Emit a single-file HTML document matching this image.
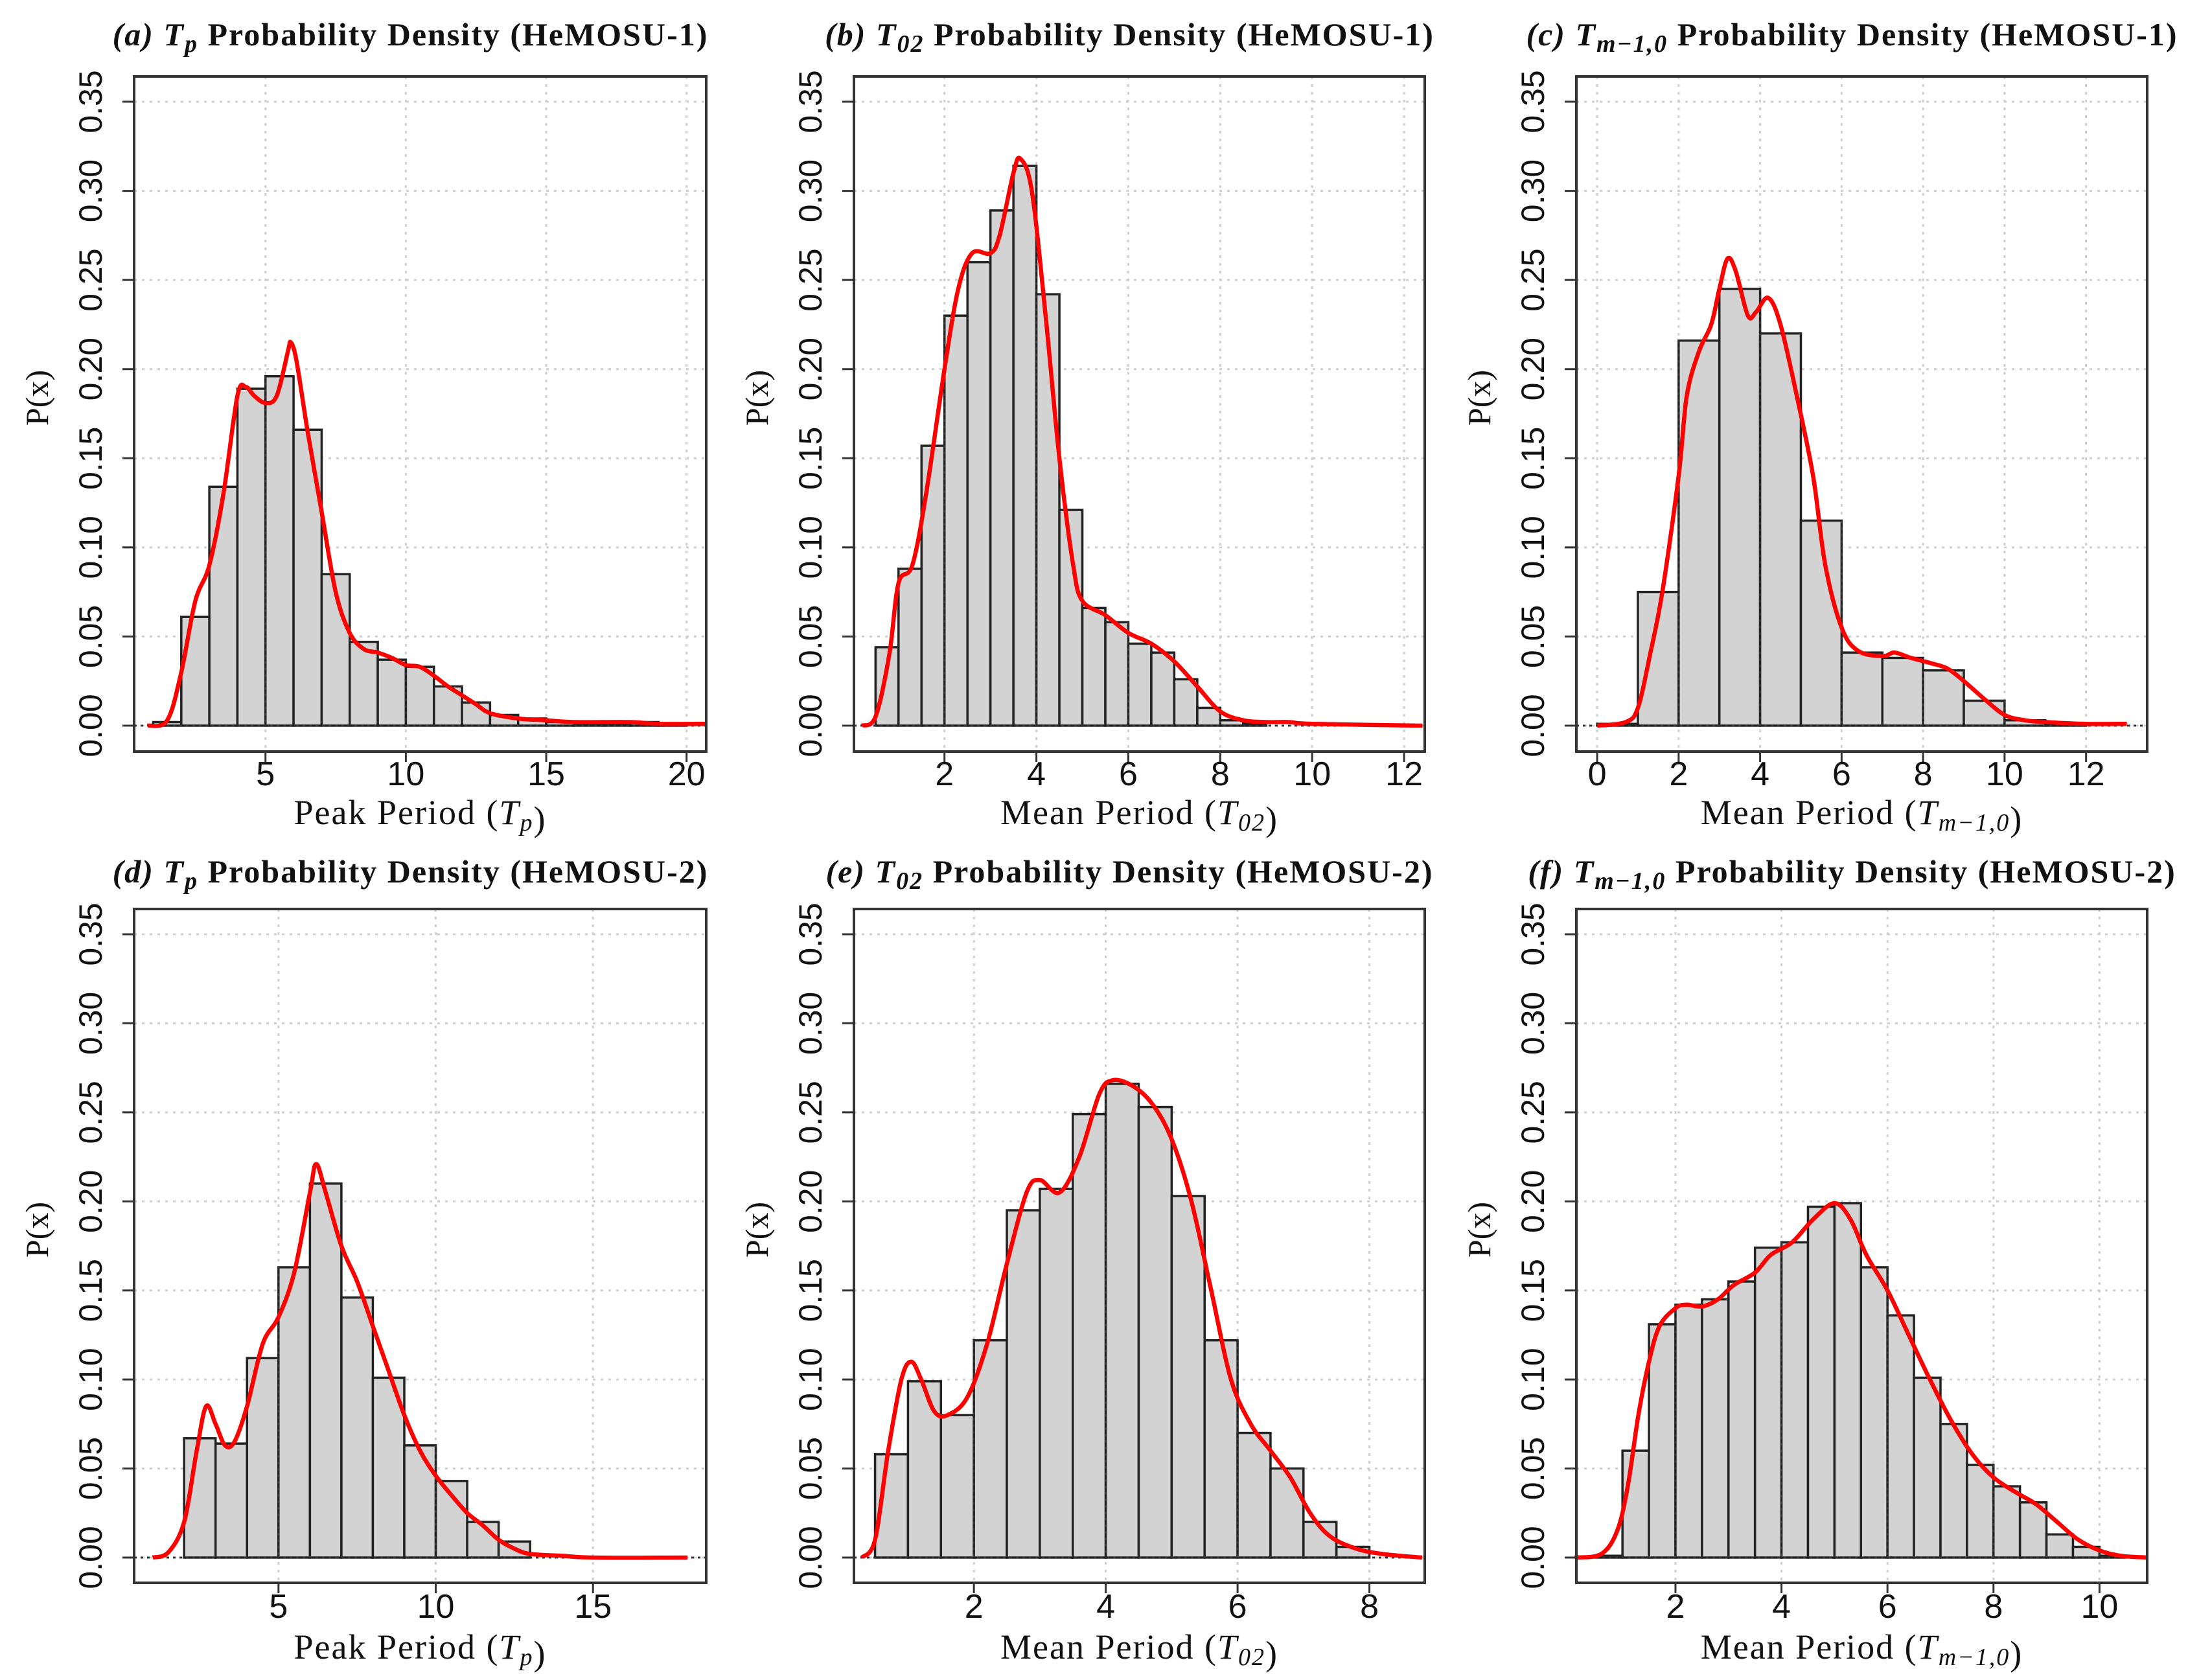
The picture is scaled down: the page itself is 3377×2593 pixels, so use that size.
<!DOCTYPE html>
<html><head><meta charset="utf-8"><style>
html,body{margin:0;padding:0;background:#fff;}
svg{display:block;}
</style></head><body>
<svg id="fig" width="3377" height="2593" viewBox="0 0 3377 2593" xmlns="http://www.w3.org/2000/svg"></svg>
<script>
// ---- data (panel a) ----
const aBinStart = 1, aBinWidth = 1;
const aBars = [0.002,0.061,0.134,0.189,0.196,0.166,0.085,0.047,0.037,0.033,0.022,0.013,0.006,0.004,0.002,0.001,0.001,0.002,0.001];
const aCurveX = [0.8,1.5,2,2.5,3,3.5,4,4.3,4.6,5,5.4,5.8,5.9,6.1,6.5,7,7.5,8,8.5,9,9.5,10,10.5,11,11.5,12,12.5,13,14,15,16,18,19,20.7];
const aCurveY = [0,0.003,0.03,0.07,0.09,0.13,0.185,0.19,0.185,0.181,0.185,0.21,0.215,0.205,0.165,0.12,0.075,0.052,0.043,0.041,0.038,0.034,0.033,0.028,0.022,0.017,0.012,0.007,0.004,0.003,0.002,0.002,0.001,0.001];
const aTicks = [5,10,15,20];
// ---- panel b ----
const bBinStart = 0.5, bBinWidth = 0.5;
const bBars = [0.044,0.088,0.157,0.23,0.26,0.289,0.314,0.242,0.121,0.066,0.058,0.046,0.041,0.026,0.01,0.003,0.001];
const bCurveX = [0.2,0.5,0.8,1,1.3,1.6,2,2.3,2.6,3,3.2,3.5,3.65,3.9,4.2,4.5,4.8,5,5.5,6,6.5,7,7.5,8,8.5,9,9.5,10,12.4];
const bCurveY = [0,0.005,0.04,0.08,0.09,0.13,0.2,0.245,0.265,0.265,0.275,0.31,0.318,0.3,0.23,0.15,0.09,0.07,0.062,0.052,0.046,0.036,0.022,0.008,0.003,0.002,0.002,0.001,0];
const bTicks = [2,4,6,8,10,12];
// ---- panel c ----
const cBinStart = 0, cBinWidth = 1;
const cBars = [0.001,0.075,0.216,0.245,0.22,0.115,0.041,0.038,0.031,0.014,0.003,0.001];
const cCurveX = [0,0.7,1,1.3,1.6,2,2.2,2.5,2.8,3,3.2,3.4,3.7,3.9,4.2,4.5,4.9,5.3,5.6,6,6.4,7,7.3,7.7,8.2,8.6,9,9.5,10,10.5,11,12,13];
const cCurveY = [0,0.002,0.01,0.04,0.075,0.14,0.185,0.21,0.225,0.245,0.262,0.255,0.23,0.232,0.24,0.225,0.185,0.14,0.09,0.055,0.042,0.039,0.041,0.038,0.035,0.032,0.025,0.015,0.006,0.003,0.002,0.001,0.001];
const cTicks = [0,2,4,6,8,10,12];
// ---- panel d ----
const dBinStart = 2, dBinWidth = 1;
const dBars = [0.067,0.064,0.112,0.163,0.21,0.146,0.101,0.063,0.043,0.02,0.009];
const dCurveX = [1,1.5,2,2.4,2.7,3,3.3,3.6,4,4.5,5,5.5,6,6.2,6.5,7,7.5,8,8.5,9,9.5,10,10.5,11,11.5,12,12.5,13,14,15,18];
const dCurveY = [0,0.003,0.02,0.06,0.085,0.075,0.063,0.065,0.085,0.12,0.135,0.16,0.205,0.221,0.205,0.175,0.155,0.13,0.105,0.08,0.06,0.046,0.035,0.025,0.018,0.01,0.005,0.002,0.001,0,0];
const dTicks = [5,10,15];
// ---- panel e ----
const eBinStart = 0.5, eBinWidth = 0.5;
const eBars = [0.058,0.099,0.08,0.122,0.195,0.207,0.249,0.266,0.253,0.203,0.122,0.07,0.05,0.02,0.006];
const eCurveX = [0.3,0.5,0.7,0.9,1.05,1.2,1.4,1.6,1.9,2.2,2.5,2.8,3,3.3,3.6,3.9,4.1,4.4,4.7,5,5.3,5.6,5.9,6.2,6.5,6.8,7.1,7.4,7.8,8.2,8.8];
const eCurveY = [0,0.01,0.06,0.1,0.11,0.1,0.082,0.08,0.09,0.12,0.165,0.205,0.212,0.205,0.225,0.26,0.268,0.265,0.255,0.235,0.2,0.15,0.1,0.075,0.06,0.045,0.025,0.012,0.005,0.002,0];
const eTicks = [2,4,6,8];
// ---- panel f ----
const fBinStart = 0.5, fBinWidth = 0.5;
const fBars = [0.001,0.06,0.131,0.142,0.145,0.155,0.174,0.177,0.197,0.199,0.163,0.136,0.101,0.075,0.052,0.04,0.031,0.013,0.006,0.001];
const fCurveX = [0.1,0.6,0.9,1.1,1.3,1.5,1.7,2,2.2,2.5,2.8,3.1,3.5,3.8,4.2,4.6,5,5.3,5.6,6,6.4,6.8,7.2,7.6,8,8.4,8.8,9.2,9.6,10,10.4,10.9];
const fCurveY = [0,0.002,0.015,0.04,0.08,0.11,0.13,0.14,0.142,0.141,0.145,0.153,0.16,0.17,0.177,0.19,0.199,0.19,0.17,0.15,0.125,0.1,0.077,0.058,0.045,0.037,0.03,0.02,0.01,0.004,0.001,0];
const fTicks = [2,4,6,8,10];
const yTicks = [0,0.05,0.10,0.15,0.20,0.25,0.30,0.35];
const yTickLabels = ["0.00","0.05","0.10","0.15","0.20","0.25","0.30","0.35"];

const NS = "http://www.w3.org/2000/svg";
const svg = document.getElementById('fig');
function mk(tag, attrs, parent){
  const e = document.createElementNS(NS, tag);
  for (const k in attrs) e.setAttribute(k, attrs[k]);
  (parent||svg).appendChild(e);
  return e;
}
const rows = [{top:118,bottom:1160,y0:1120,y35:157,titleY:70,tickY:1212,labY:1272},
              {top:1403,bottom:2443,y0:2404,y35:1442,titleY:1362,tickY:2497,labY:2560}];
const cols = [{l:207,r:1090},{l:1318,r:2199},{l:2433,r:3314}];

function drawPanel(id,row,col,dom,bins,binStart,binW,cx,cy,ticks,title,xlab){
  const R = rows[row], C = cols[col];
  const g = mk('g',{});
  
  
  const X = v => C.l + (v-dom[0])/(dom[1]-dom[0])*(C.r-C.l);
  const Y = v => R.y0 + v/0.35*(R.y35-R.y0);
  const grid = mk('g',{stroke:'#cfcfcf','stroke-width':3,'stroke-dasharray':'4 8'},g);
  
  
  ticks.forEach(t=>mk('line',{x1:X(t),x2:X(t),y1:R.top,y2:R.bottom},grid));
  yTicks.forEach(t=>mk('line',{x1:C.l,x2:C.r,y1:Y(t),y2:Y(t)},grid));
  bins.forEach((v,i)=>{
    const x1 = X(binStart+i*binW), x2 = X(binStart+(i+1)*binW);
    const b = mk('rect',{x:x1,y:Y(v),width:x2-x1,height:Y(0)-Y(v),fill:'#d3d3d3',stroke:'#222','stroke-width':3.5},g);
    
    
  });
  // dark dotted grid where it crosses bars
  const ov = mk('g',{stroke:'#333','stroke-width':3,'stroke-dasharray':'4 6'},g);
  ticks.forEach(t=>{
    const i = Math.floor((t-binStart)/binW+1e-9);
    let h = 0;
    if (i>=0 && i<bins.length) h = bins[i];
    if (Math.abs((t-binStart)/binW - Math.round((t-binStart)/binW))<1e-9 && i-1>=0 && i-1<bins.length) h = Math.max(h,bins[i-1]);
    if (h>0) mk('line',{x1:X(t),x2:X(t),y1:Y(h),y2:Y(0)},ov);
  });
  mk('line',{x1:C.l,x2:C.r,y1:Y(0),y2:Y(0)},ov);
  // smooth curve (Catmull-Rom)
  const pts = cx.map((v,i)=>[X(v),Y(cy[i])]);
  let d = 'M'+pts[0][0].toFixed(1)+' '+pts[0][1].toFixed(1);
  for (let i=0;i<pts.length-1;i++){
    const p0 = pts[Math.max(0,i-1)], p1 = pts[i], p2 = pts[i+1], p3 = pts[Math.min(pts.length-1,i+2)];
    const c1 = [p1[0]+(p2[0]-p0[0])/6, p1[1]+(p2[1]-p0[1])/6];
    const c2 = [p2[0]-(p3[0]-p1[0])/6, p2[1]-(p3[1]-p1[1])/6];
    d += ` C${c1[0].toFixed(1)} ${c1[1].toFixed(1)} ${c2[0].toFixed(1)} ${c2[1].toFixed(1)} ${p2[0].toFixed(1)} ${p2[1].toFixed(1)}`;
  }
  const p = mk('path',{d:d,fill:'none',stroke:'#ff0000','stroke-width':6.5,'stroke-linejoin':'round'},g);
  
  
  const bx = mk('rect',{x:C.l,y:R.top,width:C.r-C.l,height:R.bottom-R.top,fill:'none',stroke:'#333','stroke-width':4},g);
  
  
  ticks.forEach(t=>{
    mk('line',{x1:X(t),x2:X(t),y1:R.bottom,y2:R.bottom+16,stroke:'#333','stroke-width':3},g);
    const tx = mk('text',{x:X(t),y:R.tickY,'text-anchor':'middle','font-family':'Liberation Sans, sans-serif','font-size':52,fill:'#111'},g);
    tx.textContent = String(t);
    
    
  });
  yTicks.forEach((t,i)=>{
    mk('line',{x1:C.l-18,x2:C.l,y1:Y(t),y2:Y(t),stroke:'#333','stroke-width':3},g);
    const x = C.l-50, y = Y(t);
    const ty = mk('text',{x:x,y:y,transform:`rotate(-90 ${x} ${y})`,'text-anchor':'middle','font-family':'Liberation Sans, sans-serif','font-size':50,fill:'#111'},g);
    ty.textContent = yTickLabels[i];
    
    
  });
  const ylx = C.l-133, yly = (R.top+R.bottom)/2-25;
  const yl = mk('text',{x:ylx,y:yly,transform:`rotate(-90 ${ylx} ${yly})`,'text-anchor':'middle','font-family':'Liberation Serif, serif','font-size':50,fill:'#111'},g);
  yl.textContent = 'P(x)';
  
  
  const tt = mk('text',{x:(C.l+C.r)/2-15,y:R.titleY,'text-anchor':'middle','font-family':'Liberation Serif, serif','font-size':50,'font-weight':'bold','letter-spacing':'2',fill:'#111'},g);
  tt.innerHTML = title;
  
  
  const xl = mk('text',{x:(C.l+C.r)/2,y:R.labY,'text-anchor':'middle','font-family':'Liberation Serif, serif','font-size':54,'letter-spacing':'2',fill:'#111'},g);
  xl.innerHTML = xlab;
  
  
}
const sub = s => `<tspan font-style="italic" dy="10" font-size="38">${s}</tspan><tspan dy="-10"> </tspan>`;
const Tp = `<tspan font-style="italic">T</tspan>${sub('p')}`;
const T02 = `<tspan font-style="italic">T</tspan>${sub('02')}`;
const Tm = `<tspan font-style="italic">T</tspan>${sub('m−1,0')}`;
const tl = (l,T,h) => `<tspan font-style="italic">(${l})</tspan> ${T}<tspan>Probability Density (HeMOSU-${h})</tspan>`;
const xt = (w,T) => `${w} Period (${T.replace('<tspan dy="-10"> </tspan>','<tspan dy="-10"></tspan>')})`;
drawPanel('a',0,0,[0.32,20.7],aBars,aBinStart,aBinWidth,aCurveX,aCurveY,aTicks,tl('a',Tp,1),xt('Peak',Tp));
drawPanel('b',0,1,[0.03,12.45],bBars,bBinStart,bBinWidth,bCurveX,bCurveY,bTicks,tl('b',T02,1),xt('Mean',T02));
drawPanel('c',0,2,[-0.51,13.5],cBars,cBinStart,cBinWidth,cCurveX,cCurveY,cTicks,tl('c',Tm,1),xt('Mean',Tm));
drawPanel('d',1,0,[0.41,18.6],dBars,dBinStart,dBinWidth,dCurveX,dCurveY,dTicks,tl('d',Tp,2),xt('Peak',Tp));
drawPanel('e',1,1,[0.18,8.84],eBars,eBinStart,eBinWidth,eCurveX,eCurveY,eTicks,tl('e',T02,2),xt('Mean',T02));
drawPanel('f',1,2,[0.13,10.9],fBars,fBinStart,fBinWidth,fCurveX,fCurveY,fTicks,tl('f',Tm,2),xt('Mean',Tm));
</script>
</body></html>
